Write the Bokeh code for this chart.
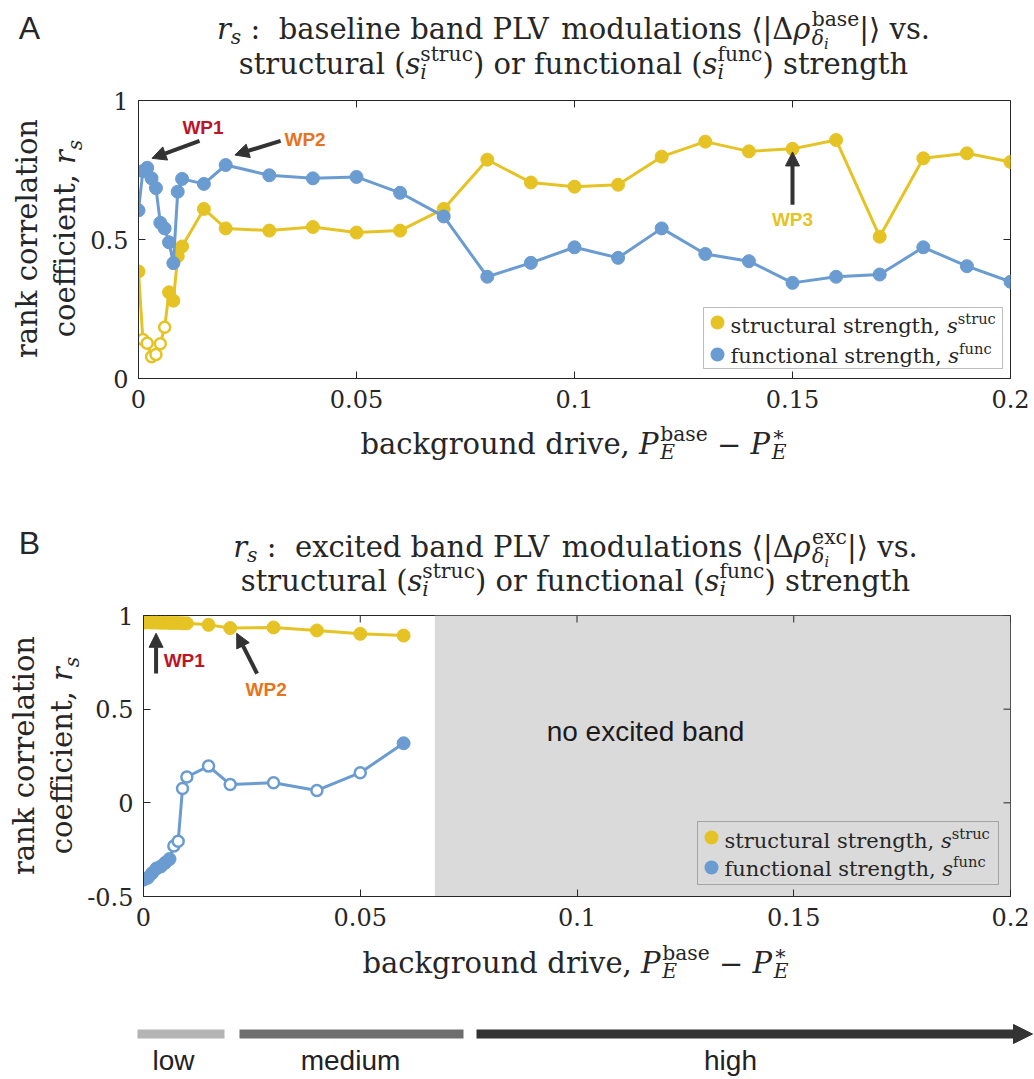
import math
from bokeh.plotting import figure
from bokeh.models import (Range1d, FixedTicker, NumeralTickFormatter,
                          Label, BoxAnnotation, Arrow, NormalHead)
from bokeh.layouts import column, row
from bokeh.embed import file_html
from bokeh.resources import INLINE

# ---------------- data ----------------
drive_A = [0, 0.001, 0.002, 0.003, 0.004, 0.005, 0.006, 0.007, 0.008, 0.009, 0.010,
           0.015, 0.02, 0.03, 0.04, 0.05, 0.06, 0.07, 0.08, 0.09, 0.10,
           0.11, 0.12, 0.13, 0.14, 0.15, 0.16, 0.17, 0.18, 0.19, 0.20]
struc_A = [0.385, 0.14, 0.127, 0.078, 0.086, 0.125, 0.184, 0.31, 0.28, 0.44, 0.475,
           0.61, 0.54, 0.532, 0.545, 0.525, 0.532, 0.61, 0.787, 0.705, 0.69,
           0.697, 0.798, 0.852, 0.817, 0.826, 0.858, 0.51, 0.792, 0.81, 0.779]
struc_A_open = [False, True, True, True, True, True, True, False, False, False, False,
                False, False, False, False, False, False, False, False, False, False,
                False, False, False, False, False, False, False, False, False, False]
func_A = [0.605, 0.746, 0.758, 0.72, 0.685, 0.56, 0.54, 0.49, 0.415, 0.672, 0.718,
          0.70, 0.768, 0.731, 0.72, 0.725, 0.668, 0.583, 0.366, 0.416, 0.472,
          0.434, 0.54, 0.448, 0.422, 0.344, 0.366, 0.374, 0.472, 0.404, 0.348]

drive_B = [0, 0.001, 0.002, 0.003, 0.004, 0.005, 0.006, 0.007, 0.008, 0.009, 0.010,
           0.015, 0.02, 0.03, 0.04, 0.05, 0.06]
struc_B = [0.962, 0.963, 0.962, 0.962, 0.961, 0.961, 0.960, 0.960, 0.960, 0.959, 0.958,
           0.950, 0.933, 0.936, 0.920, 0.902, 0.893]
func_B = [-0.41, -0.40, -0.375, -0.35, -0.34, -0.32, -0.30, -0.23, -0.205, 0.077, 0.138,
          0.196, 0.098, 0.107, 0.066, 0.161, 0.318]
func_B_open = [False, False, False, False, False, False, False, True, True, True, True,
               True, True, True, True, True, False]
no_excited_from = 0.0672

x_ticks = [0, 0.05, 0.1, 0.15, 0.2]
y_ticks_A = [0, 0.5, 1]
y_ticks_B = [-0.5, 0, 0.5, 1]

# working-point arrows: (x_start, y_start, x_end, y_end)
wp_arrows_A = [(0.0140, 0.855, 0.0031, 0.792), (0.0326, 0.855, 0.0221, 0.804), (0.15, 0.625, 0.15, 0.815)]
wp_labels_A = [("WP1", 0.0148, 0.903), ("WP2", 0.0382, 0.861), ("WP3", 0.15, 0.572)]
wp_arrows_B = [(0.0029, 0.69, 0.0029, 0.905), (0.0262, 0.69, 0.0215, 0.905)]
wp_labels_B = [("WP1", 0.0094, 0.759), ("WP2", 0.0283, 0.607)]

level_names = ["low", "medium", "high"]

YEL = "#E6C324"
BLU = "#6A9BD1"
INK = "#262626"
WP_COL = {"WP1": "#BE1428", "WP2": "#E8731C", "WP3": YEL}
SERIF = "DejaVu Serif"
SANS = "Liberation Sans"
DESC = 0.236  # baseline compensation (fraction of font size)

# ---------------- text layout helpers ----------------
W = {' ': 0.318, ',': 0.318, '.': 0.318, ':': 0.337, '(': 0.390, ')': 0.390, '|': 0.337,
     '−': 0.838, '∗': 0.5, '⟨': 0.39, '⟩': 0.39, 'Δ': 0.72, 'ρ': 0.64, 'δ': 0.61,
     'a': 0.596, 'b': 0.640, 'c': 0.560, 'd': 0.640, 'e': 0.592, 'f': 0.370, 'g': 0.640,
     'h': 0.644, 'i': 0.320, 'j': 0.320, 'k': 0.614, 'l': 0.320, 'm': 0.948, 'n': 0.644,
     'o': 0.602, 'p': 0.640, 'q': 0.640, 'r': 0.478, 's': 0.513, 't': 0.402, 'u': 0.644,
     'v': 0.565, 'w': 0.856, 'x': 0.564, 'y': 0.565, 'z': 0.523,
     'P': 0.733, 'L': 0.640, 'V': 0.680, 'E': 0.729}


def tw(t):
    return sum(W.get(c, 0.6) for c in t)


def lab(p, x, y, text, size, font=SERIF, style="normal", color=INK, align="left",
        baseline="alphabetic", angle=0.0, units="canvas"):
    p.add_layout(Label(x=x, y=y, x_units=units, y_units=units, text=text, text_font=font,
                       text_font_size=f"{size:.1f}px", text_font_style=style,
                       text_color=color, text_align=align, text_baseline=baseline,
                       angle=angle))


def pw(pieces):
    return sum(tw(t) * f for t, _, f, _ in pieces)


def run_width(run, size):
    w = 0.0
    for seg in run:
        if seg[0] == "SS":
            w += max(pw(seg[1]), pw(seg[2])) * size
        else:
            w += tw(seg[0]) * seg[2] * size
    return w


def place(p, run, x0, y0, size, color=INK, rotated=False, align="left"):
    total = run_width(run, size)
    pos = -total / 2 if align == "center" else 0.0
    if rotated:
        ux, uy, dx, dy, ang, comp = 0, -1, 1, 0, math.pi / 2, 2 * DESC
    else:
        ux, uy, dx, dy, ang, comp = 1, 0, 0, 1, 0.0, DESC

    def put(t, it, f, sh, at):
        off = sh * size - comp * f * size
        cur = at
        for word in t.split(" "):
            if word:
                lab(p, x0 + ux * cur + dx * off, y0 + uy * cur + dy * off, word, f * size,
                    style="italic" if it else "normal", color=color, angle=ang)
            cur += (tw(word) + W[' ']) * f * size

    for seg in run:
        if seg[0] == "SS":
            best = 0.0
            for pieces in (seg[1], seg[2]):
                q = pos
                for (t, it, f, sh) in pieces:
                    put(t, it, f, sh, q)
                    q += tw(t) * f * size
                best = max(best, q - pos)
            pos += best
        else:
            t, it, f, sh = seg
            put(t, it, f, sh, pos)
            pos += tw(t) * f * size


def title_line1(word, sup):
    return [("r", True, 1, 0), ("s", True, 0.7, 0.2),
            (f" :  {word} band PLV modulations ", False, 1, 0),
            ("⟨|Δ", False, 1, 0), ("ρ", True, 1, 0),
            ("SS", [(sup, False, 0.7, -0.42)], [("δ", True, 0.7, 0.25), ("i", True, 0.5, 0.4)]),
            ("|⟩ vs.", False, 1, 0)]


title_line2 = [("structural (", False, 1, 0), ("s", True, 1, 0),
               ("SS", [("struc", False, 0.7, -0.42)], [("i", True, 0.7, 0.2)]),
               (") or functional (", False, 1, 0), ("s", True, 1, 0),
               ("SS", [("func", False, 0.7, -0.42)], [("i", True, 0.7, 0.2)]),
               (") strength", False, 1, 0)]
xlabel_run = [("background drive, ", False, 1, 0), ("P", True, 1, 0),
              ("SS", [("base", False, 0.7, -0.42)], [("E", True, 0.7, 0.22)]),
              (" − ", False, 1, 0), ("P", True, 1, 0),
              ("SS", [("∗", False, 0.7, -0.42)], [("E", True, 0.7, 0.22)])]
ylabel1 = [("rank correlation", False, 1, 0)]
ylabel2 = [("coefficient, ", False, 1, 0), ("r", True, 1, 0), ("s", True, 0.7, 0.2)]
leg_struc = [("structural strength, ", False, 1, 0), ("s", True, 1, 0), ("struc", False, 0.7, -0.42)]
leg_func = [("functional strength, ", False, 1, 0), ("s", True, 1, 0), ("func", False, 0.7, -0.42)]


# ---------------- figure helpers ----------------
def text_fig(w, h):
    f = figure(width=w, height=h, x_range=Range1d(0, w), y_range=Range1d(h, 0),
               output_backend="svg", toolbar_location=None, x_axis_location=None,
               y_axis_location=None, min_border=0, min_border_left=0, min_border_right=0,
               min_border_top=0, min_border_bottom=0, outline_line_color=None,
               background_fill_color="white", border_fill_color="white", frame_align=False)
    f.xgrid.visible = False
    f.ygrid.visible = False
    return f


def make_panel(width, height, ylo, yhi, yticks, left, top, bottom):
    p = figure(width=width, height=height, x_range=Range1d(0, 0.2), y_range=Range1d(ylo, yhi),
               output_backend="svg", toolbar_location=None,
               min_border_left=left, min_border_right=24, min_border_top=top,
               min_border_bottom=bottom, background_fill_color="white",
               border_fill_color="white", outline_line_color=INK, outline_line_width=1,
               frame_align=False)
    p.xgrid.visible = False
    p.ygrid.visible = False
    for ax in (p.xaxis[0], p.yaxis[0]):
        ax.major_tick_in = 7
        ax.major_tick_out = 0
        ax.minor_tick_in = 0
        ax.minor_tick_out = 0
        ax.axis_line_color = INK
        ax.major_tick_line_color = INK
        ax.major_label_text_font = SERIF
        ax.major_label_text_font_size = "24px"
        ax.major_label_text_color = INK
    p.xaxis[0].ticker = FixedTicker(ticks=x_ticks)
    p.xaxis[0].formatter = NumeralTickFormatter(format="0.[00]")
    p.xaxis[0].major_label_standoff = 11
    p.yaxis[0].ticker = FixedTicker(ticks=yticks)
    p.yaxis[0].formatter = NumeralTickFormatter(format="0.[0]")
    p.yaxis[0].major_label_standoff = 10
    # inward ticks on the top and right edges of the box
    p.ray(x=x_ticks, y=[yhi] * len(x_ticks), length=7, angle=-math.pi / 2,
          length_units="screen", line_color=INK, line_width=1)
    p.ray(x=[0.2] * len(yticks), y=yticks, length=7, angle=math.pi,
          length_units="screen", line_color=INK, line_width=1)
    return p


def series(p, x, y, open_mask, color):
    p.line(x, y, line_color=color, line_width=3)
    xf = [a for a, o in zip(x, open_mask) if not o]
    yf = [b for b, o in zip(y, open_mask) if not o]
    xo = [a for a, o in zip(x, open_mask) if o]
    yo = [b for b, o in zip(y, open_mask) if o]
    p.scatter(xf, yf, size=13, fill_color=color, line_color=color)
    if xo:
        p.scatter(xo, yo, size=11, fill_color="white", line_color=color, line_width=2.5)


def arrows(p, arr, labels):
    for (xs, ys, xe, ye) in arr:
        p.add_layout(Arrow(x_start=xs, y_start=ys, x_end=xe, y_end=ye, line_width=4,
                           line_color="#333333",
                           end=NormalHead(size=14, fill_color="#333333", line_color="#333333")))
    for (t, x, y) in labels:
        lab(p, x, y, t, 19, font=SANS, style="bold", color=WP_COL[t], align="center",
            baseline="middle", units="data")


def legend(p, left, top, right, bottom, fill, rows):
    p.add_layout(BoxAnnotation(left=left, right=right, top=top, bottom=bottom,
                               left_units="canvas", right_units="canvas",
                               top_units="canvas", bottom_units="canvas",
                               fill_color=fill if fill else "white",
                               fill_alpha=1.0 if fill else 0.0,
                               line_color=INK, line_width=1))
    for (run, color, mx, my, tx, ty) in rows:
        p.add_layout(BoxAnnotation(left=mx - 7, right=mx + 7, top=my - 7, bottom=my + 7,
                                   left_units="canvas", right_units="canvas",
                                   top_units="canvas", bottom_units="canvas",
                                   fill_color=color, fill_alpha=1.0, line_color=None,
                                   border_radius=7))
        place(p, run, tx, ty, 21)


FS = 29

# ================= panel A (page y 0 .. 511) =================
tA = text_fig(1034, 85)                      # page y 0 .. 85
lab(tA, 29, 35 - 0.23 * 32, "A", 32, font=SANS, align="center")
place(tA, title_line1("baseline", "base"), 573, 35, FS, align="center")
place(tA, title_line2, 573, 70, FS, align="center")

yA = text_fig(87, 335)                       # page y 85 .. 420
place(yA, ylabel1, 40, 238 - 85, FS, rotated=True, align="center")
place(yA, ylabel2, 78, 238 - 85, FS, rotated=True, align="center")

pA = make_panel(947, 335, 0, 1, y_ticks_A, left=50, top=15, bottom=42)   # frame 137..1010 x 100..378
series(pA, drive_A, struc_A, struc_A_open, YEL)
series(pA, drive_A, func_A, [False] * len(func_A), BLU)
arrows(pA, wp_arrows_A, wp_labels_A)
# legend, canvas coordinates of pA (x offset 87, y offset 85)
legend(pA, 703 - 87, 307 - 85, 1002 - 87, 368 - 85, "white",
       [(leg_struc, YEL, 717 - 87, 322 - 85, 730 - 87, 330 - 85),
        (leg_func, BLU, 717 - 87, 354 - 85, 730 - 87, 360 - 85)])

xA = text_fig(1034, 91)                      # page y 420 .. 511
place(xA, xlabel_run, 573, 450 - 420, FS, align="center")

# ================= panel B (page y 511 .. 1000) =================
tB = text_fig(1034, 90)                      # page y 511 .. 601
lab(tB, 29, 550 - 511 - 0.23 * 32, "B", 32, font=SANS, align="center")
place(tB, title_line1("excited", "exc"), 575, 553 - 511, FS, align="center")
place(tB, title_line2, 575, 587 - 511, FS, align="center")

yB = text_fig(84, 337)                       # page y 601 .. 938
place(yB, ylabel1, 37, 755 - 601, FS, rotated=True, align="center")
place(yB, ylabel2, 75, 755 - 601, FS, rotated=True, align="center")

pB = make_panel(950, 337, -0.5, 1, y_ticks_B, left=57, top=14, bottom=42)  # frame 141..1010 x 615..896
pB.add_layout(BoxAnnotation(left=no_excited_from, fill_color="#DADADA", fill_alpha=1.0,
                            line_color=None, level="underlay"))
series(pB, drive_B, struc_B, [False] * len(struc_B), YEL)
series(pB, drive_B, func_B, func_B_open, BLU)
arrows(pB, wp_arrows_B, wp_labels_B)
lab(pB, 0.1158, 0.379, "no excited band", 28, font=SANS, color="#1a1a1a", align="center",
    baseline="middle", units="data")
legend(pB, 697 - 84, 821 - 601, 998 - 84, 884 - 601, None,
       [(leg_struc, YEL, 711 - 84, 837 - 601, 724 - 84, 845 - 601),
        (leg_func, BLU, 711 - 84, 867 - 601, 724 - 84, 873 - 601)])

xB = text_fig(1034, 62)                      # page y 938 .. 1000
place(xB, xlabel_run, 575, 969 - 938, FS, align="center")

# ================= drive-level bar (page y 1000 .. 1079) =================
pC = text_fig(1034, 79)
bar_left = [137, 239]
bar_right = [224, 463]
bar_color = ["#B4B4B4", "#6E6E6E"]
pC.quad(left=bar_left, right=bar_right, top=[29, 29], bottom=[38, 38], fill_color=bar_color,
        line_color=None)
pC.add_layout(Arrow(x_start=476, y_start=33.5, x_end=1032, y_end=33.5, line_width=9,
                    line_color="#333333",
                    end=NormalHead(size=19, fill_color="#333333", line_color="#333333")))
for name, cx in zip(level_names, [173, 350, 730]):
    lab(pC, cx, 66 - 0.23 * 28, name, 28, font=SANS, color="#222222", align="center")

layout = column(tA, row(yA, pA), xA, tB, row(yB, pB), xB, pC)
open("out.html", "w").write(file_html(layout, INLINE))
